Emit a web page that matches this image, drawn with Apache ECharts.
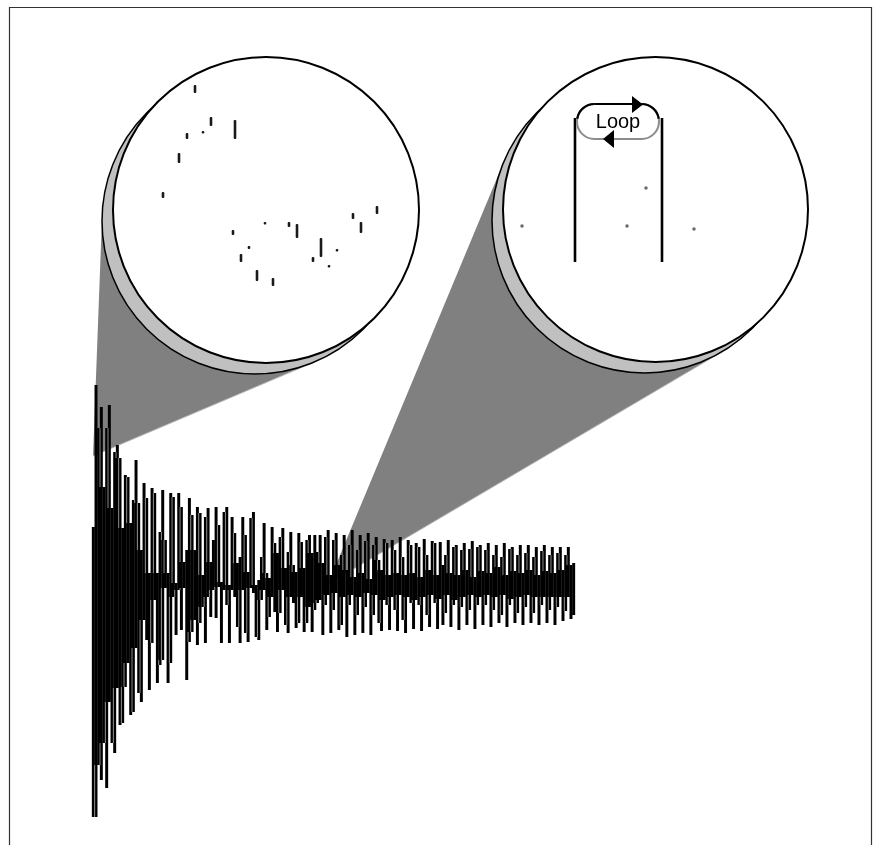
<!DOCTYPE html>
<html>
<head>
<meta charset="utf-8">
<title>Sample loop</title>
<script src="https://cdn.jsdelivr.net/npm/echarts@6/dist/echarts.min.js"></script>
<style>
html, body { margin: 0; padding: 0; background: #fff; }
#chart { width: 873px; height: 845px; }
</style>
</head>
<body>
<div id="chart"></div>
<script>
// waveform: one column per sample window, upper / lower excursion from the centre line
const attackHi = [58, 200, 157, 178, 98, 157, 180, 77, 133, 140, 127, 57, 110, 108, 62, 85, 125, 82,
  35, 102, 87, 12, 97, 92, 12, 53, 95, 45, 12, 92, 88, 2, 92, 78, 23, 35]
const attackLo = [-232, -232, -180, -195, -158, -203, -117, -158, -168, -103, -140, -138, -102, -78, -130, -127, -63, -108,
  -117, -35, -55, -105, -58, -15, -98, -80, -75, -3, -98, -78, -12, -50, -5, -45, -3, -95]
const bodyHi = [87, 70, 35, 78, 72, 10, 68, 77, 23, 45, 78, 60, 3, 73, 78, 0, 68, 52, 22, 28, 68, 50, 13, 67, 73,
  0, 5, 28, 62, 12, 7, 58, 42, 32, 48, 57, 17, 33, 53, 20, 13, 52, 43, 17, 45, 50, 32, 50, 33]
const bodyLo = [-57, -47, -35, -60, -38, -22, -58, -12, -32, -5, -33, -2, -58, -5, -20, -58, -5, -12, -42, -58, -5, -48, -57, -3, -8,
  -52, -55, -15, -5, -45, -32, -12, -27, -47, -28, -5, -40, -48, -12, -18, -43, -38, -12, -47, -38, -22, -47, -25, -18]
const tailHi = [50, 22, 48, 55, 10, 45, 52, 20, 30, 50, 15, 40, 55, 8, 35,
  50, 12, 44, 52, 6, 40, 48, 25, 15, 46, 42, 10, 45, 35, 12,
  48, 28, 10, 45, 40, 12, 42, 38, 8, 46, 30, 15, 44, 42, 10,
  43, 20, 30, 45, 12, 38, 40, 10, 35, 42, 15, 36, 44, 8, 38,
  40, 14, 35, 42, 12, 30, 40, 18, 28, 42, 10, 36, 38, 14, 30,
  40, 12, 32, 40, 15, 28, 38, 10, 34, 40, 14, 30, 38, 12, 32,
  38, 15, 30, 38, 20, 22]
const tailLo = [-15, -50, -20, -10, -48, -25, -8, -45, -40, -12, -52, -20, -10, -50, -30,
  -12, -48, -22, -8, -50, -30, -10, -38, -46, -15, -20, -45, -12, -25, -46,
  -10, -35, -48, -12, -18, -44, -15, -20, -46, -12, -30, -42, -10, -18, -44,
  -14, -40, -28, -10, -42, -20, -15, -45, -22, -12, -40, -25, -10, -44, -20,
  -12, -40, -20, -10, -42, -25, -12, -38, -30, -10, -42, -20, -14, -38, -28,
  -12, -40, -22, -10, -38, -28, -12, -40, -20, -12, -38, -25, -12, -40, -22,
  -12, -36, -26, -12, -34, -30]

// magnified samples inside the left lens: [x, low, high]
const lensSamples = [[-71, 117, 125], [-55, 84, 93], [-63, 77, 79], [-79, 71, 77], [-31, 71, 90], [-87, 47, 57],
  [-103, 12, 18], [-33, -25, -20], [-1, -14, -12], [23, -17, -12], [31, -28, -14], [-17, -39, -36],
  [-25, -52, -44], [-9, -71, -60], [7, -76, -68], [55, -47, -28], [47, -52, -47], [63, -57, -55],
  [71, -41, -39], [87, -9, -3], [95, -23, -12], [111, -4, 4]]
// sparse samples inside the right lens and the loop markers
const loopSamples = [[-133.5, -16.5], [-28.5, -16.5], [-9.5, 21.5], [38.5, -19.5]]
const loopStart = -80.5
const loopEnd = 6.5
const loopTop = 91.5
const loopBottom = -52.5

const hi = attackHi.concat(bodyHi, tailHi)
const lo = attackLo.concat(bodyLo, tailLo)
const wave = hi.map((h, i) => [i, lo[i], h])

const chart = echarts.init(document.getElementById('chart'))

const lensL = { cx: 266, cy: 210, r: 153 }
const lensR = { cx: 655.5, cy: 209.5, r: 152.5 }
const shadowDx = -11
const shadowDy = 11

function tangents(apex, cx, cy, r) {
  const dx = cx - apex[0], dy = cy - apex[1]
  const d = Math.hypot(dx, dy)
  const a = Math.atan2(dy, dx)
  const h = Math.asin(r / d)
  const len = Math.sqrt(d * d - r * r)
  return [
    [apex[0] + len * Math.cos(a - h), apex[1] + len * Math.sin(a - h)],
    [apex[0] + len * Math.cos(a + h), apex[1] + len * Math.sin(a + h)]
  ]
}

function lensGraphics(lens, apex) {
  const sx = lens.cx + shadowDx, sy = lens.cy + shadowDy
  const t = tangents(apex, sx, sy, lens.r)
  return [
    { type: 'polygon', z: 0, shape: { points: [apex, t[0], [sx, sy], t[1]] }, style: { fill: '#808080' } },
    { type: 'line', z: 0, shape: { x1: apex[0], y1: apex[1], x2: t[1][0], y2: t[1][1] }, style: { stroke: '#b4b4b4', lineWidth: 1 } },
    { type: 'circle', z: 40, shape: { cx: sx, cy: sy, r: lens.r }, style: { fill: '#c0c0c0', stroke: '#000', lineWidth: 1.5 } },
    { type: 'circle', z: 41, shape: { cx: lens.cx, cy: lens.cy, r: lens.r }, style: { fill: '#fff', stroke: '#000', lineWidth: 2 } }
  ]
}

// each column: solid black bar, plus a light seam on its left edge where it rises
// above (or drops below) the neighbouring columns
function renderColumn(params, api) {
  const i = api.value(0)
  const lowV = api.value(1), highV = api.value(2)
  const x0 = api.coord([i, 0])[0]
  const x1 = api.coord([i + 1, 0])[0]
  const yTop = api.coord([i, highV])[1]
  const yBot = api.coord([i, lowV])[1]
  const children = [{
    type: 'rect',
    shape: { x: x0 - 0.15, y: yTop, width: x1 - x0 + 0.3, height: Math.max(yBot - yTop, 1) },
    style: { fill: '#000' }
  }]
  if (i > 0) {
    const n = hi.length - 1
    const coreHi = Math.min(hi[i - 1], highV, hi[Math.min(n, i + 1)])
    const coreLo = Math.max(lo[i - 1], lowV, lo[Math.min(n, i + 1)])
    const seamHi = Math.min(hi[i - 1], highV)
    const seamLo = Math.max(lo[i - 1], lowV)
    const segs = [[seamHi, coreHi], [coreLo, seamLo]]
    segs.forEach(s => {
      if (s[0] - s[1] > 1) {
        children.push({
          type: 'line',
          shape: { x1: x0, y1: api.coord([i, s[0]])[1], x2: x0, y2: api.coord([i, s[1]])[1] },
          style: { stroke: '#c4c4c4', lineWidth: 0.7 }
        })
      }
    })
  }
  return { type: 'group', children: children }
}

function renderDash(params, api) {
  const p0 = api.coord([api.value(0), api.value(2)])
  const p1 = api.coord([api.value(0), api.value(1)])
  return {
    type: 'rect',
    shape: { x: p0[0] - 1.3, y: p0[1], width: 2.6, height: Math.max(p1[1] - p0[1], 2.5), r: 1 },
    style: { fill: '#1a1a1a' }
  }
}

// loop badge
const pill = { x: 577, y: 104, w: 82, h: 35 }
const pr = pill.h / 2
const pcy = pill.y + pr
const badge = [
  { type: 'rect', z: 70, shape: { x: pill.x, y: pill.y, width: pill.w, height: pill.h, r: pr },
    style: { fill: '#fff', stroke: '#8c8c8c', lineWidth: 2 } },
  { type: 'arc', z: 71, shape: { cx: pill.x + pr, cy: pcy, r: pr, startAngle: Math.PI * 1.05, endAngle: Math.PI * 1.5, clockwise: true },
    style: { stroke: '#000', lineWidth: 2.2, fill: null } },
  { type: 'arc', z: 71, shape: { cx: pill.x + pill.w - pr, cy: pcy, r: pr, startAngle: Math.PI * 1.5, endAngle: Math.PI * 1.95, clockwise: true },
    style: { stroke: '#000', lineWidth: 2.2, fill: null } },
  { type: 'line', z: 71, shape: { x1: pill.x + pr, y1: pill.y, x2: pill.x + pill.w - pr, y2: pill.y },
    style: { stroke: '#000', lineWidth: 2.2 } },
  { type: 'polygon', z: 72, shape: { points: [[632, 96], [643, 104.5], [632, 113]] }, style: { fill: '#000' } },
  { type: 'polygon', z: 72, shape: { points: [[614, 130], [603, 139], [614, 148]] }, style: { fill: '#000' } },
  { type: 'text', z: 73, x: 618, y: 122,
    style: { text: 'Loop', font: '20px "Liberation Sans", Arial, sans-serif', fill: '#000', align: 'center', verticalAlign: 'middle' } }
]

const option = {
  animation: false,
  backgroundColor: '#fff',
  graphic: {
    elements: [
      { type: 'rect', z: 0, shape: { x: 9.5, y: 7.5, width: 862, height: 860 }, style: { fill: null, stroke: '#333', lineWidth: 1.2 } }
    ].concat(lensGraphics(lensL, [93, 456]), lensGraphics(lensR, [328, 584]), badge)
  },
  grid: [
    { left: 92, width: 483, top: 0, height: 845 },
    { left: lensL.cx - lensL.r, top: lensL.cy - lensL.r, width: lensL.r * 2, height: lensL.r * 2 },
    { left: lensR.cx - lensR.r, top: lensR.cy - lensR.r, width: lensR.r * 2, height: lensR.r * 2 }
  ],
  xAxis: [
    { type: 'value', gridIndex: 0, min: 0, max: hi.length, show: false },
    { type: 'value', gridIndex: 1, min: -lensL.r, max: lensL.r, show: false },
    { type: 'value', gridIndex: 2, min: -lensR.r, max: lensR.r, show: false }
  ],
  yAxis: [
    { type: 'value', gridIndex: 0, min: -260, max: 585, show: false },
    { type: 'value', gridIndex: 1, min: -lensL.r, max: lensL.r, show: false },
    { type: 'value', gridIndex: 2, min: -lensR.r, max: lensR.r, show: false }
  ],
  series: [
    {
      type: 'custom', name: 'waveform', xAxisIndex: 0, yAxisIndex: 0, z: 5,
      renderItem: renderColumn, data: wave
    },
    {
      type: 'custom', name: 'zoomed', xAxisIndex: 1, yAxisIndex: 1, z: 60,
      renderItem: renderDash, data: lensSamples
    },
    {
      type: 'scatter', name: 'loop samples', xAxisIndex: 2, yAxisIndex: 2, z: 60,
      symbolSize: 3.5, itemStyle: { color: '#444' }, data: loopSamples
    },
    {
      type: 'line', name: 'loop start', xAxisIndex: 2, yAxisIndex: 2, z: 60, symbol: 'none',
      lineStyle: { color: '#000', width: 2.6 }, data: [[loopStart, loopTop], [loopStart, loopBottom]]
    },
    {
      type: 'line', name: 'loop end', xAxisIndex: 2, yAxisIndex: 2, z: 60, symbol: 'none',
      lineStyle: { color: '#000', width: 2.6 }, data: [[loopEnd, loopTop], [loopEnd, loopBottom]]
    }
  ]
}

chart.setOption(option)
</script>
</body>
</html>
